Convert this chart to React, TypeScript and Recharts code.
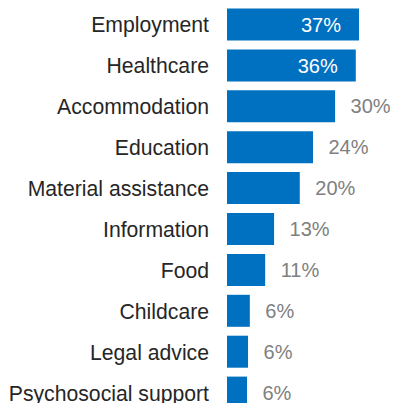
import React from 'react';
import { BarChart, Bar, XAxis, YAxis, LabelList } from 'recharts';

const categories = [
  'Employment',
  'Healthcare',
  'Accommodation',
  'Education',
  'Material assistance',
  'Information',
  'Food',
  'Childcare',
  'Legal advice',
  'Psychosocial support',
];
const values = [37, 36.1, 30.3, 24.1, 20.4, 13.2, 10.7, 6.4, 5.9, 5.6];
const insideThreshold = 35;

const data = categories.map((name, i) => ({ name, value: values[i] }));

const FONT = '"Liberation Sans", Arial, sans-serif';

const ValueLabel = (props: any) => {
  const { x, y, width, height, value } = props;
  const text = `${Math.round(value)}%`;
  const cy = y + height / 2;
  if (value >= insideThreshold) {
    return (
      <text x={x + width - 18} y={cy} dy="0.355em" textAnchor="end" fill="#ffffff" fontSize={20} fontFamily={FONT}>
        {text}
      </text>
    );
  }
  return (
    <text x={x + width + 15.5} y={cy} dy="0.355em" textAnchor="start" fill="#808080" fontSize={20} fontFamily={FONT}>
      {text}
    </text>
  );
};

export default function App() {
  return (
    <div style={{ position: 'absolute', left: 0, top: 0, width: 394, height: 403, overflow: 'hidden', background: '#fff' }}>
      <BarChart
        width={394}
        height={420}
        data={data}
        layout="vertical"
        margin={{ top: 4.5, right: 24.3, bottom: 6.5, left: 0 }}
        barCategoryGap={0}
      >
        <XAxis type="number" domain={[0, 40]} hide />
        <YAxis
          type="category"
          dataKey="name"
          width={227}
          axisLine={false}
          tickLine={false}
          tickSize={0}
          tickMargin={18}
          interval={0}
          tick={{ fill: '#262626', fontSize: 21.2, fontFamily: FONT }}
        />
        <Bar dataKey="value" fill="#0070C0" barSize={32} isAnimationActive={false}>
          <LabelList dataKey="value" content={ValueLabel} />
        </Bar>
      </BarChart>
    </div>
  );
}
